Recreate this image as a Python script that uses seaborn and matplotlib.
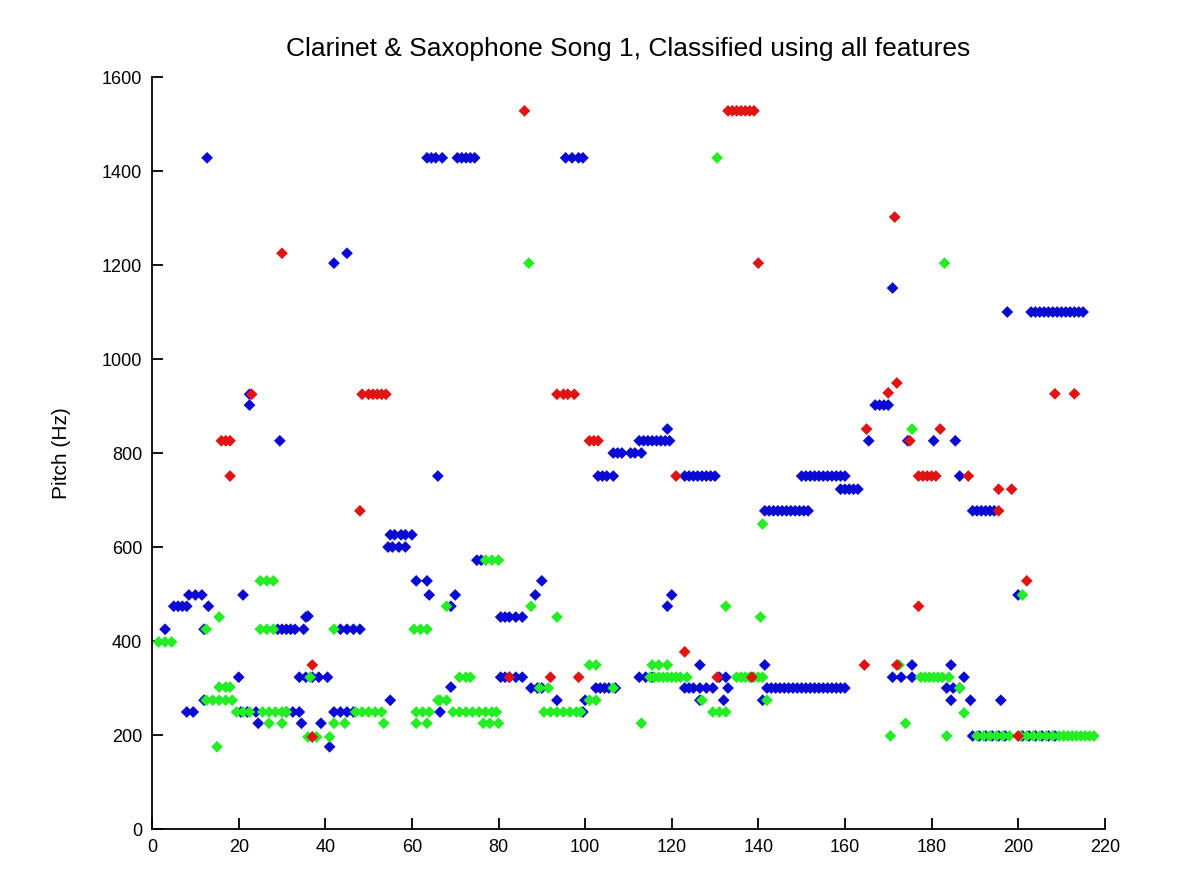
import pandas as pd
import matplotlib
matplotlib.use('Agg')
import matplotlib.pyplot as plt
import seaborn as sns

# --- data (frame index vs. pitch in Hz) ---
blue_x = [12.7,
          63.5, 64.5, 65.5, 67, 70.5, 71.5, 72.5, 73.5, 74.5,
          95.5, 97, 98.5, 99.5,
          42, 45, 171, 197.5,
          203, 204, 205, 206, 207, 208, 209, 210, 211, 212, 213, 214, 215,
          22.5, 22.5, 29.5, 66,
          55, 56, 57.5, 58.5, 60,
          54.5, 55.5, 57, 58.5,
          75, 76, 61, 63.5, 64, 70, 69,
          5, 6, 7, 8, 8.5, 10, 11.5, 13, 21, 35.5,
          119,
          112.5, 113.5, 114.5, 115.5, 116.5, 117.5, 118.5, 119.5,
          106.5, 107.5, 108.5, 110.5, 111.5, 113,
          103, 104, 105, 106.5,
          123, 124, 125, 126, 127, 128, 129, 130,
          150, 151, 152, 153, 154, 155, 156, 157, 158, 159, 160,
          159, 160, 161, 162, 163,
          141.5, 142.5, 143.5, 144.5, 145.5, 146.5, 147.5, 148.5, 149.5, 150.5, 151.5,
          90, 88.5,
          80.5, 81.5, 82.5, 84, 85.5,
          120, 119,
          167, 168, 169, 170,
          165.5, 174.5, 180.5, 185.5, 186.5,
          189.5, 190.5, 191.5, 192.5, 193.5, 194.5,
          200,
          3, 12, 29, 30, 31, 32, 33, 35, 36,
          43.5, 45, 46.5, 48,
          20, 34, 35.5, 37, 38.5, 40.5,
          8, 9.5, 12, 20.5, 22, 24, 31, 32.5, 34,
          24.5, 34.5, 39, 41, 55,
          42, 43.5, 45, 46.5, 69, 66.5,
          80.5, 81.5, 82.5, 84, 85.5,
          87.5, 89, 90, 93.5, 100,
          102.5, 103.5, 104.5, 105.5, 107, 99.5,
          112.5, 114, 115.5, 126.5,
          123, 124, 125, 126.5, 128, 129.5, 126.5,
          132, 133, 131, 132.5, 141.5, 141,
          142, 143, 144, 145, 146, 147, 148, 149, 150, 151, 152, 153, 154, 155, 156, 157, 158, 159, 160,
          175.5, 184.5, 171, 173, 175.5, 187.5,
          183.5, 185, 186.5, 184.5, 189, 196,
          189.5, 191, 192.5, 194, 195.5, 197, 201, 202.5, 204, 205.5, 207, 208.5]
blue_y = [1428,
          1428, 1428, 1428, 1428, 1428, 1428, 1428, 1428, 1428,
          1428, 1428, 1428, 1428,
          1204, 1225, 1151, 1100,
          1100, 1100, 1100, 1100, 1100, 1100, 1100, 1100, 1100, 1100, 1100, 1100, 1100,
          925, 902, 826, 751,
          626, 626, 626, 626, 626,
          600, 600, 600, 600,
          572, 572, 528, 528, 498, 498, 474,
          474, 474, 474, 474, 498, 498, 498, 474, 498, 451,
          851,
          826, 826, 826, 826, 826, 826, 826, 826,
          800, 800, 800, 800, 800, 800,
          751, 751, 751, 751,
          751, 751, 751, 751, 751, 751, 751, 751,
          751, 751, 751, 751, 751, 751, 751, 751, 751, 751, 751,
          723, 723, 723, 723, 723,
          677, 677, 677, 677, 677, 677, 677, 677, 677, 677, 677,
          528, 498,
          451, 451, 451, 451, 451,
          498, 474,
          902, 902, 902, 902,
          826, 826, 826, 826, 751,
          677, 677, 677, 677, 677, 677,
          498,
          425, 425, 425, 425, 425, 425, 425, 425, 453,
          425, 425, 425, 425,
          323, 323, 323, 323, 323, 323,
          249, 249, 274, 249, 249, 249, 249, 249, 249,
          225, 225, 225, 175, 274,
          249, 249, 249, 249, 302, 249,
          323, 323, 323, 323, 323,
          300, 300, 300, 274, 274,
          300, 300, 300, 300, 300, 249,
          323, 323, 323, 349,
          300, 300, 300, 300, 300, 300, 274,
          274, 300, 323, 323, 349, 274,
          300, 300, 300, 300, 300, 300, 300, 300, 300, 300, 300, 300, 300, 300, 300, 300, 300, 300, 300,
          349, 349, 323, 323, 323, 323,
          300, 300, 300, 274, 274, 274,
          198, 198, 198, 198, 198, 198, 198, 198, 198, 198, 198, 198]

green_x = [130.5, 87, 183, 175.5, 141,
           25, 26.5, 28, 77, 78.5, 80,
           15.5, 68, 87.5, 93.5, 132.5, 140.5,
           1.5, 3, 4.5, 12.5, 25, 26.5, 28, 42, 60.5, 62, 63.5,
           15.5, 17, 18, 12.5, 14, 15.5, 17, 18.5,
           19.5, 21, 22.5, 25.5, 27, 28.5, 30, 31,
           27, 30, 36.5, 36, 37, 38, 41, 15,
           47, 48.5, 50, 51.5, 53, 44.5, 42, 53.5,
           61, 62.5, 64, 61, 63.5, 66, 66.5, 68,
           71, 72.5, 73.5,
           69.5, 71, 72.5, 74, 75.5, 77, 78.5, 79.5,
           76.5, 78, 80,
           90.5, 92, 93.5, 95, 96.5, 98, 99,
           101, 102.5, 89.5, 91.5, 101, 102.5, 106.5, 113,
           115, 116, 117, 118, 119, 120, 121, 122, 123.5,
           115.5, 117, 119, 127, 129.5, 131, 132.5,
           135, 136, 137, 138, 139, 140, 141, 142,
           170.5, 174, 183.5, 187.5, 172.5,
           177.5, 178.5, 179.5, 180.5, 181.5, 182.5, 184, 186.5,
           190.5, 192, 193.5, 195, 196.5, 198, 200.5, 202, 203.5, 205, 206.5,
           208, 209.5, 210.5, 211.5, 212.5, 213.5, 214.5, 215.5, 216.5, 217.5,
           201]
green_y = [1428, 1204, 1204, 851, 649,
           528, 528, 528, 572, 572, 572,
           451, 474, 474, 451, 474, 451,
           398, 398, 398, 425, 425, 425, 425, 425, 425, 425, 425,
           302, 302, 302, 274, 274, 274, 274, 274,
           249, 249, 249, 249, 249, 249, 249, 249,
           225, 225, 323, 196, 196, 196, 196, 175,
           249, 249, 249, 249, 249, 225, 225, 225,
           249, 249, 249, 225, 225, 274, 274, 274,
           323, 323, 323,
           249, 249, 249, 249, 249, 249, 249, 249,
           225, 225, 225,
           249, 249, 249, 249, 249, 249, 249,
           349, 349, 300, 300, 274, 274, 300, 225,
           323, 323, 323, 323, 323, 323, 323, 323, 323,
           349, 349, 349, 274, 249, 249, 249,
           323, 323, 323, 323, 323, 323, 323, 274,
           198, 225, 198, 247, 349,
           323, 323, 323, 323, 323, 323, 323, 300,
           198, 198, 198, 198, 198, 198, 198, 198, 198, 198, 198,
           198, 198, 198, 198, 198, 198, 198, 198, 198, 198,
           498]

red_x = [86, 133, 134, 135, 136, 137, 138, 139,
         171.5, 30, 140,
         23, 48.5, 50, 51, 52, 53, 54,
         93.5, 95, 96, 97.5,
         16, 17, 18, 18, 48, 101, 102, 103, 121,
         172, 170, 208.5, 213, 165, 182, 175,
         177, 178, 179, 180, 181, 188.5,
         195.5, 198.5, 195.5, 202, 177,
         37, 37, 82.5, 92, 98.5, 123, 130.5, 138.5,
         164.5, 172, 200]
red_y = [1528, 1528, 1528, 1528, 1528, 1528, 1528, 1528,
         1302, 1225, 1204,
         925, 925, 925, 925, 925, 925, 925,
         925, 925, 925, 925,
         826, 826, 826, 751, 677, 826, 826, 826, 751,
         949, 928, 926, 926, 851, 851, 826,
         751, 751, 751, 751, 751, 751,
         723, 723, 677, 528, 474,
         349, 196, 323, 323, 323, 377, 323, 323,
         349, 349, 198]

TITLE = 'Clarinet & Saxophone Song 1, Classified using all features'
COLORS = {'blue': '#0a0ad2', 'green': '#25ec25', 'red': '#e01414'}


def build_frame():
    parts = []
    for name, xs, ys in [('blue', blue_x, blue_y),
                         ('green', green_x, green_y),
                         ('red', red_x, red_y)]:
        parts.append(pd.DataFrame({'frame': xs, 'pitch': ys, 'cls': name}))
    return pd.concat(parts, ignore_index=True)


def main():
    df = build_frame()

    sns.set_style('white')
    plt.rcParams['font.family'] = ['Liberation Sans', 'DejaVu Sans']
    plt.rcParams['text.color'] = 'black'
    plt.rcParams['axes.labelcolor'] = 'black'
    # MATLAB-style ticks pointing into the axes
    plt.rcParams['xtick.direction'] = 'in'
    plt.rcParams['ytick.direction'] = 'in'
    plt.rcParams['xtick.bottom'] = True
    plt.rcParams['ytick.left'] = True

    fig = plt.figure(figsize=(11.79, 8.77), dpi=100)
    ax = fig.add_axes([0.129, 0.0547, 0.808, 0.8575])

    sns.scatterplot(data=df, x='frame', y='pitch', hue='cls', palette=COLORS,
                    marker='D', s=36, linewidth=0, legend=False, ax=ax)

    ax.set_xlim(0, 220)
    ax.set_ylim(0, 1600)
    ax.set_xticks(range(0, 221, 20))
    ax.set_yticks(range(0, 1601, 200))
    ax.tick_params(bottom=True, left=True, direction='in', length=8,
                   width=1.3, labelsize=13, colors='black', pad=7)
    for side in ['top', 'right']:
        ax.spines[side].set_visible(False)
    for side in ['left', 'bottom']:
        ax.spines[side].set_color('black')
        ax.spines[side].set_linewidth(1.3)

    ax.set_xlabel('')
    ax.set_ylabel('Pitch (Hz)', fontsize=15, labelpad=22, color='black')
    ax.set_title(TITLE, fontsize=19, pad=15, color='black')

    fig.savefig('out.png', dpi=100)


if __name__ == '__main__':
    main()
